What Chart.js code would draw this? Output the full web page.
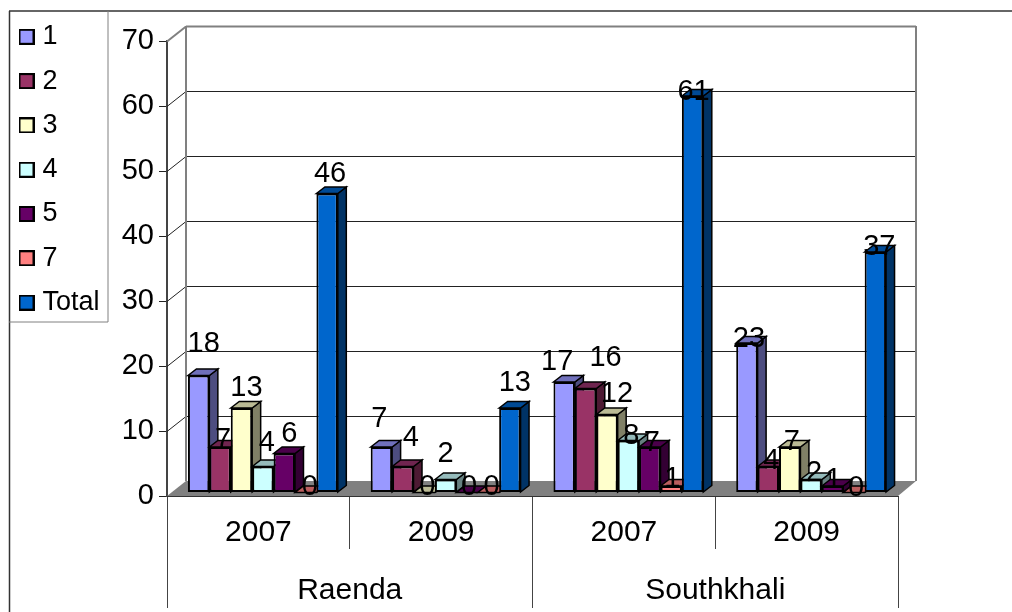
<!DOCTYPE html>
<html>
<head>
<meta charset="utf-8">
<style>
html, body { margin: 0; padding: 0; background: #fff; }
canvas { display: block; }
</style>
<script src="https://cdn.jsdelivr.net/npm/chart.js@4"></script>
</head>
<body>
<canvas id="barChart" width="1012" height="612"></canvas>
<script>
// Data

let yearLabels = ["2007", "2009", "2007", "2009"];
let placeLabels = ["Raenda", "Southkhali"];
let seriesNames = ["1", "2", "3", "4", "5", "7", "Total"];

let series1 = [18, 7, 17, 23];
let series2 = [7, 4, 16, 4];
let series3 = [13, 0, 12, 7];
let series4 = [4, 2, 8, 2];
let series5 = [6, 0, 7, 1];
let series7 = [0, 0, 1, 0];
let seriesTotal = [46, 13, 61, 37];
let seriesValues = [series1, series2, series3, series4, series5, series7, seriesTotal];

let frontColors = ["#9999FF", "#993366", "#FFFFCC", "#CCFFFF", "#660066", "#FF8080", "#0066CC"];
let sideColors = ["#4D4D80", "#4D1A33", "#808066", "#668080", "#330033", "#804040", "#003366"];
let topColors = ["#7070BB", "#702550", "#BBBB95", "#95BBBB", "#4A004A", "#BB5E5E", "#004A95"];

// How far each value label sits from its bar top (Excel placed them by hand)
let labelShiftX = [
    [5, -2, -7, 2], [3, 8, 20, 3], [5, 3, 10, 2], [4, 0, 3, 3],
    [5, 2, 2, 1], [4, 3, 1, 2], [3, 5, 1, 4]
];
let labelShiftY = [
    [-32, -28, -20, -4], [-7, -29, -31, -6], [-20, -6, -21, -5], [-24, -26, -5, -7],
    [-20, -6, -4, -6], [-6, -6, -7, -5], [-20, -25, -4, -5]
];

// Depth of the fake 3D look
let wallX = 19;
let wallY = -15;
let barDepthX = 8.5;
let barDepthY = -6.5;
let barShiftX = 4.5;
let barShiftY = -3.5;

function makeSwatch(color) {
    let c = document.createElement("canvas");
    c.width = 16;
    c.height = 16;
    let g = c.getContext("2d");
    g.fillStyle = color;
    g.fillRect(0, 0, 16, 16);
    g.strokeStyle = "#000";
    g.lineWidth = 2;
    g.strokeRect(1, 1, 14, 14);
    return c;
}

function poly(ctx, points, fill, stroke, width) {
    ctx.beginPath();
    ctx.moveTo(points[0][0], points[0][1]);
    for (let i = 1; i < points.length; i++) {
        ctx.lineTo(points[i][0], points[i][1]);
    }
    ctx.closePath();
    if (fill) {
        ctx.fillStyle = fill;
        ctx.fill();
    }
    if (stroke) {
        ctx.strokeStyle = stroke;
        ctx.lineWidth = width;
        ctx.stroke();
    }
}

function line(ctx, x1, y1, x2, y2, color, width) {
    ctx.beginPath();
    ctx.moveTo(x1, y1);
    ctx.lineTo(x2, y2);
    ctx.strokeStyle = color;
    ctx.lineWidth = width;
    ctx.stroke();
}

let look3d = {
    id: "look3d",

    // put the legend where the reference has it
    afterLayout(chart) {
        chart.legend.left = 6.7;
        chart.legend.top = 6;
    },

    beforeDraw(chart) {
        let ctx = chart.ctx;
        ctx.save();
        ctx.fillStyle = "#fff";
        ctx.fillRect(0, 0, chart.width, chart.height);
        // outer frame and legend box
        line(ctx, 9.5, 11, 9.5, 612, "#333", 1.5);
        line(ctx, 9, 11, 1012, 11, "#333", 1.5);
        line(ctx, 108, 11, 108, 322, "#808080", 1);
        line(ctx, 9, 322, 108, 322, "#808080", 1);
        ctx.restore();
    },

    // the library draws last dataset first, the 3D look needs left to right
    beforeDatasetDraw() {
        return false;
    },

    beforeDatasetsDraw(chart) {
        let ctx = chart.ctx;
        let a = chart.chartArea;
        let y = chart.scales.y;
        ctx.save();

        // floor
        poly(ctx, [
            [a.left, a.bottom], [a.left + wallX, a.bottom + wallY],
            [a.right + wallX - 1, a.bottom + wallY], [a.right, a.bottom]
        ], "#808080");

        // back wall gridlines and the slanted bits on the side wall
        y.ticks.forEach(function (t) {
            let py = Math.round(y.getPixelForValue(t.value)) + 0.5;
            if (t.value == 0) {
                return;
            }
            let top = t.value == y.max;
            let color = top ? "#808080" : "#222";
            let w = top ? 2 : 1;
            line(ctx, a.left, py, a.left + wallX, py + wallY, color, w);
            line(ctx, a.left + wallX, py + wallY, a.right + wallX - 1, py + wallY, color, w);
        });
        line(ctx, a.left + wallX, a.top + wallY, a.left + wallX, a.bottom + wallY, "#808080", 2);
        line(ctx, a.right + wallX - 1, a.top + wallY, a.right + wallX - 1, a.bottom + wallY, "#808080", 2);

        // bars stand a little behind the front edge of the floor
        ctx.translate(barShiftX, barShiftY);

        seriesNames.forEach(function (name, i) {
            let meta = chart.getDatasetMeta(i);
            meta.data.forEach(function (bar) {
                let p = bar.getProps(["x", "y", "base", "width"], true);
                let l = p.x - p.width / 2;
                let r = p.x + p.width / 2;
                poly(ctx, [
                    [r, p.y], [r + barDepthX, p.y + barDepthY],
                    [r + barDepthX, p.base + barDepthY], [r, p.base]
                ], sideColors[i], "#000", 1.5);
                poly(ctx, [
                    [l, p.y], [l + barDepthX, p.y + barDepthY],
                    [r + barDepthX, p.y + barDepthY], [r, p.y]
                ], topColors[i], "#000", 1.5);
            });
            meta.controller.draw();
        });
        ctx.restore();
    },

    afterDatasetsDraw(chart) {
        let ctx = chart.ctx;

        // value labels on top of everything
        ctx.save();
        ctx.font = "29px 'Liberation Sans'";
        ctx.fillStyle = "#000";
        ctx.textAlign = "center";
        ctx.textBaseline = "middle";
        chart.data.datasets.forEach(function (ds, i) {
            chart.getDatasetMeta(i).data.forEach(function (bar, j) {
                let p = bar.getProps(["x", "y"], true);
                ctx.fillText(ds.data[j], p.x + barShiftX + labelShiftX[i][j], p.y + barShiftY + labelShiftY[i][j]);
            });
        });
        ctx.restore();
    }
};

let datasets = seriesNames.map(function (name, i) {
    return {
        label: name,
        data: seriesValues[i],
        backgroundColor: frontColors[i],
        borderColor: "#000",
        borderWidth: 2,
        borderSkipped: false,
        categoryPercentage: 0.82,
        barPercentage: 1,
        pointStyle: makeSwatch(frontColors[i])
    };
});

new Chart(document.getElementById("barChart"), {
    type: "bar",
    data: {
        labels: yearLabels,
        datasets: datasets
    },
    options: {
        responsive: false,
        animation: false,
        layout: {
            padding: { top: 41, right: 114, bottom: 4, left: 0 }
        },
        plugins: {
            tooltip: { enabled: false },
            legend: {
                position: "chartArea",
                align: "start",
                onClick: null,
                labels: {
                    usePointStyle: true,
                    pointStyleWidth: 5,
                    boxHeight: 16,
                    padding: 17.3,
                    color: "#000",
                    font: { family: "'Liberation Sans'", size: 27 }
                }
            }
        },
        scales: {
            y: {
                min: 0,
                max: 70,
                afterFit(scale) {
                    scale.width = 167;
                },
                ticks: {
                    stepSize: 10,
                    color: "#000",
                    padding: 5,
                    font: { family: "'Liberation Sans'", size: 29 }
                },
                grid: {
                    drawOnChartArea: false,
                    tickLength: 8,
                    color: "#222"
                },
                border: { color: "#444", width: 2 }
            },
            x: {
                weight: 0,
                afterFit(scale) {
                    scale.height = 53;
                },
                ticks: {
                    color: "#000",
                    padding: -34,
                    maxRotation: 0,
                    autoSkip: false,
                    font: { family: "'Liberation Sans'", size: 30 }
                },
                grid: {
                    drawOnChartArea: false,
                    tickLength: 53,
                    color: "#444"
                },
                border: { color: "#333", width: 1 }
            },
            x2: {
                type: "category",
                position: "bottom",
                labels: placeLabels,
                weight: 1,
                offset: true,
                afterFit(scale) {
                    scale.height = 59;
                },
                ticks: {
                    color: "#000",
                    padding: -35,
                    maxRotation: 0,
                    autoSkip: false,
                    font: { family: "'Liberation Sans'", size: 30 }
                },
                grid: {
                    offset: true,
                    drawOnChartArea: false,
                    tickLength: 59,
                    color: "#444"
                },
                border: { display: false }
            }
        }
    },
    plugins: [look3d]
});
</script>
</body>
</html>
